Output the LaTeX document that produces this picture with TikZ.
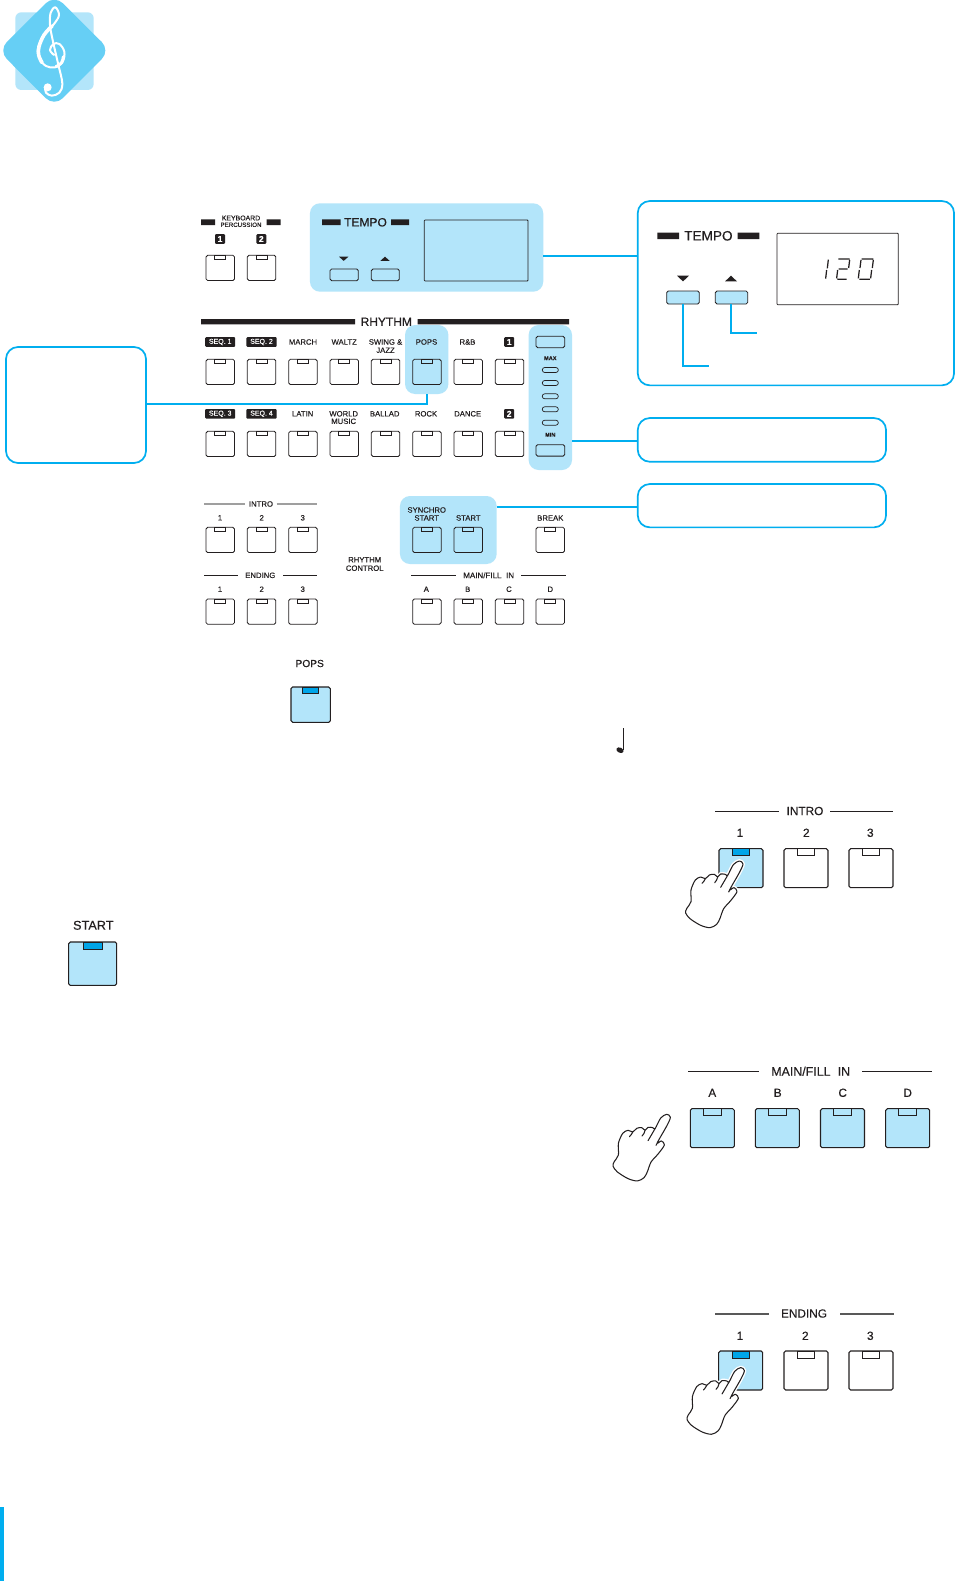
\documentclass[tikz,border=0pt]{standalone}
\usepackage{fontspec}
\setmainfont{Liberation Sans}[FakeBold=0.25]
\definecolor{hl}{HTML}{B3E5FA}
\definecolor{cy}{HTML}{00AEEF}
\definecolor{lamp}{HTML}{00A5E8}
\definecolor{logoblue}{HTML}{66CFF5}
\definecolor{ink}{HTML}{231F20}
\newcount\lblc
\newcommand{\lbl}[4]{\global\advance\lblc by 1
  \node[txt] (lbl\the\lblc) at (#1,#2) {\fontsize{#4}{#4}\selectfont #3};}
\newcommand{\badge}[4]{\global\advance\lblc by 1
  \node[badgebox,minimum width=#4] (lbl\the\lblc) at (#1,#2) {#3};}
\newcommand{\sbtn}[3]{\node[btnbox,minimum width=28.5pt,minimum height=25.2pt,anchor=north west] (#1) at (#2,#3) {};
  \node[lampbox,minimum width=11pt,minimum height=4pt] (#1l) at (#1.north) {};}
\newcommand{\bbtn}[6]{\node[btnbox,line width=1.05pt,minimum width=44pt,minimum height=39pt,anchor=north west,fill=#4] (#1) at (#2,#3) {};
  \node[lampbox,line width=.75pt,minimum width=#6,minimum height=7pt,fill=#5] (#1l) at (#1.north) {};}
\tikzset{
  txt/.style={inner sep=0pt,outer sep=0pt,text=ink,align=center},
  badgebox/.style={inner sep=0pt,outer sep=0pt,fill=ink,rounded corners=1pt,minimum height=9.6pt,text=white,font=\fontsize{7}{7}\selectfont},
  btnbox/.style={draw=ink,line width=.85pt,rounded corners=1.6pt,inner sep=0pt,outer sep=0pt},
  lampbox/.style={draw=ink,line width=.55pt,inner sep=0pt,outer sep=0pt,anchor=north},
  pillbox/.style={draw=ink,line width=.7pt,rounded corners=2.4pt,inner sep=0pt,outer sep=0pt,minimum width=16pt,minimum height=5pt},
  hlbox/.style={fill=hl,rounded corners=10pt,inner sep=0pt,outer sep=0pt},
  callout/.style={draw=cy,line width=1.7pt,rounded corners=12pt,inner sep=0pt,outer sep=0pt,fill=white},
  conn/.style={draw=cy,line width=1.7pt},
  pics/handglyph/.style={code={
    \path[draw=white,line width=3.8pt,fill=white,line join=round,scale=.3333]
      plot[smooth cycle,tension=.5] coordinates {(178,33)(189,42)(178,68)(150,118)(162,113)(171,125)(152,152)(131,176)(120,205)(110,223)(90,233)(62,226)(30,206)(17,189)(20,176)(33,155)(33,120)(46,90)(62,81)(76,86)(88,75)(103,73)(113,81)(122,72)(136,73)(143,76)(160,44)};
    \path[draw=ink,line width=1.05pt,fill=white,line join=round,scale=.3333]
      plot[smooth cycle,tension=.5] coordinates {(178,33)(189,42)(178,68)(150,118)(162,113)(171,125)(152,152)(131,176)(120,205)(110,223)(90,233)(62,226)(30,206)(17,189)(20,176)(33,155)(33,120)(46,90)(62,81)(76,86)(88,75)(103,73)(113,81)(122,72)(136,73)(143,76)(160,44)};
    \draw[ink,line width=1.05pt,line cap=round,scale=.3333] (143,76) -- (122,112) (76,86) .. controls (74,92) and (70,96) .. (66,100) (113,81) .. controls (112,88) and (108,94) .. (104,98) (150,118) -- (146,126);
  }}
}
\begin{document}
\begin{tikzpicture}[x=1pt,y=-1pt]
\useasboundingbox (0,0) rectangle (955,1581);
\fill[white] (0,0) rectangle (955,1581);
% logo
\fill[hl,rounded corners=6pt] (15.3,12.3) rectangle (93.7,90);
\fill[logoblue,rounded corners=12pt] (-1.7,50.5) -- (54.3,-5.2) -- (110.3,50.5) -- (54.3,106.7) -- cycle;
\begin{scope}[shift={(30,0)},scale=.3333]
\draw[white,line width=2pt,line cap=round] plot[smooth,tension=.6] coordinates {(72,165)(60,150)(70,132)(88,132)(103,155)(98,185)(75,202)(48,198)(28,175)(24,145)(42,105)(72,72)(87,45)(76,22)(62,38)(60,75)(68,120)(84,190)(97,250)(88,278)(65,287)(48,278)(45,262)};
\draw[white,line width=3.6pt,line cap=round] plot[smooth,tension=.6] coordinates {(36,188)(26,165)(27,140)(42,105)(66,78)};
\draw[white,line width=3pt,line cap=round] plot[smooth,tension=.6] coordinates {(100,170)(95,188)(78,200)};
\fill[white] (53,262) circle (12);
\end{scope}
% highlights
\node[hlbox,minimum width=233.3pt,minimum height=88.4pt] (tempobg) at (426.6,247.5) {};
\node[hlbox,minimum width=43.4pt,minimum height=69pt] (popsbg) at (426.7,359.5) {};
\node[hlbox,minimum width=43.4pt,minimum height=145pt] (rhythmbg) at (550.3,397.5) {};
\node[hlbox,minimum width=96.7pt,minimum height=68pt] (syncbg) at (448.3,530) {};
% callouts
\node[callout,minimum width=316.3pt,minimum height=184.3pt] (bigbox) at (795.9,293.2) {};
\node[callout,minimum width=248.3pt,minimum height=43.7pt] (boxtwo) at (761.9,439.9) {};
\node[callout,minimum width=248.3pt,minimum height=43.3pt] (boxthree) at (761.9,505.7) {};
\node[callout,minimum width=140pt,minimum height=116pt] (leftbox) at (76,405) {};
% connectors
\coordinate (cA) at (0,256);
\coordinate (cB) at (0,404);
\coordinate (fA) at (709,365.7);
\coordinate (fB) at (757,333);
\draw[conn] (tempobg.east |- cA) -- (bigbox.west |- cA);
\draw[conn] (leftbox.east |- cB) -| (popsbg.south);
\draw[conn] ([yshift=-.8pt]rhythmbg.east |- boxtwo.west) -- ([yshift=-.8pt]boxtwo.west);
\draw[conn] ([yshift=-1pt]syncbg.east |- boxthree.west) -- ([yshift=-1pt]boxthree.west);
% keyboard percussion
\fill[ink] (201,219.3) rectangle (215,225) (266.7,219.3) rectangle (280.7,225);
\lbl{241}{218}{KEYBOARD}{6.9}
\lbl{241}{224.8}{PERCUSSION}{6.2}
\badge{220}{239}{\fontsize{8.5}{8.5}\selectfont\bfseries 1}{10pt}
\badge{261.3}{239}{\fontsize{8.5}{8.5}\selectfont\bfseries 2}{10pt}
\sbtn{kA}{206}{255.3}
\sbtn{kB}{247.3}{255.3}
% tempo panel
\fill[ink] (322,219.3) rectangle (340.7,225) (391,219.3) rectangle (409,225);
\lbl{365.5}{222.3}{TEMPO}{12}
\fill[ink] (339,256.7) -- (348.4,256.7) -- (343.7,260.9) -- cycle;
\fill[ink] (380.3,260.9) -- (389.7,260.9) -- (385,256.7) -- cycle;
\node[btnbox,minimum width=28.3pt,minimum height=11.7pt,anchor=north west] (tdown) at (330,269) {};
\node[btnbox,minimum width=28pt,minimum height=11.7pt,anchor=north west] (tup) at (371.3,269) {};
\node[draw=ink,line width=.85pt,rounded corners=.8pt,inner sep=0pt,outer sep=0pt,minimum width=103.7pt,minimum height=61pt,anchor=north west] (disp) at (424.3,220) {};
% rhythm
\fill[ink] (201,319) rectangle (355,324.3) (417.7,319) rectangle (569,324.3);
\lbl{386.3}{321.8}{RHYTHM}{12}
\badge{220.2}{342}{SEQ. 1}{30pt}
\badge{261.5}{342}{SEQ. 2}{30.4pt}
\lbl{303}{342}{MARCH}{7.7}
\lbl{344.2}{342}{WALTZ}{7.7}
\lbl{385.5}{342}{SWING \&}{7.7}
\lbl{385.5}{350.3}{JAZZ}{7.7}
\lbl{426.5}{342}{POPS}{7.7}
\lbl{467.5}{342}{R\&B}{7.7}
\badge{509.2}{342}{\fontsize{8.5}{8.5}\selectfont\bfseries 1}{10pt}
\badge{220.2}{413.8}{SEQ. 3}{30pt}
\badge{261.5}{413.8}{SEQ. 4}{30.4pt}
\lbl{302.7}{413.8}{LATIN}{7.7}
\lbl{343.7}{413.8}{WORLD}{7.7}
\lbl{343.7}{421.3}{MUSIC}{7.7}
\lbl{384.7}{413.8}{BALLAD}{7.7}
\lbl{426}{413.8}{ROCK}{7.7}
\lbl{467.7}{413.8}{DANCE}{7.7}
\badge{509.2}{413.8}{\fontsize{8.5}{8.5}\selectfont\bfseries 2}{10pt}
\sbtn{rA}{206}{359.3}
\sbtn{rB}{247.3}{359.3}
\sbtn{rC}{288.7}{359.3}
\sbtn{rD}{330}{359.3}
\sbtn{rE}{371.3}{359.3}
\sbtn{rF}{412.7}{359.3}
\sbtn{rG}{454}{359.3}
\sbtn{rH}{495.3}{359.3}
\sbtn{sA}{206}{431.3}
\sbtn{sB}{247.3}{431.3}
\sbtn{sC}{288.7}{431.3}
\sbtn{sD}{330}{431.3}
\sbtn{sE}{371.3}{431.3}
\sbtn{sF}{412.7}{431.3}
\sbtn{sG}{454}{431.3}
\sbtn{sH}{495.3}{431.3}
% variation column
\node[btnbox,minimum width=28.7pt,minimum height=11.4pt,anchor=north west] (vtop) at (536,336.3) {};
\node[btnbox,minimum width=28.7pt,minimum height=11.4pt,anchor=north west] (vbot) at (536,444.7) {};
\lbl{550.3}{358.2}{\bfseries MAX}{5.6}
\lbl{550.3}{434.8}{\bfseries MIN}{5.6}
\node[pillbox] (pA) at (550.3,370) {};
\node[pillbox] (pB) at (550.3,383) {};
\node[pillbox] (pC) at (550.3,396.3) {};
\node[pillbox] (pD) at (550.3,409.3) {};
\node[pillbox] (pE) at (550.3,422.7) {};
% intro / ending
\draw[gray!75,line width=1.1pt] (204,504) -- (245,504) (276.7,504) -- (317.3,504);
\lbl{261}{504}{INTRO}{7.7}
\lbl{220}{517.8}{1}{7.7}
\lbl{261.7}{517.8}{2}{7.7}
\lbl{302.7}{517.8}{3}{7.7}
\sbtn{iA}{206}{527.3}
\sbtn{iB}{247.3}{527.3}
\sbtn{iC}{288.7}{527.3}
\draw[ink,line width=.7pt] (204,575.3) -- (238,575.3) (283,575.3) -- (317.3,575.3);
\lbl{260.3}{575.3}{ENDING}{7.7}
\lbl{220}{589.2}{1}{7.7}
\lbl{261.7}{589.2}{2}{7.7}
\lbl{302.7}{589.2}{3}{7.7}
\sbtn{eA}{206}{599}
\sbtn{eB}{247.3}{599}
\sbtn{eC}{288.7}{599}
\lbl{364.7}{559.8}{RHYTHM}{7.7}
\lbl{364.7}{568.2}{CONTROL}{7.7}
% start section
\lbl{426.7}{510}{SYNCHRO}{7.7}
\lbl{426.7}{518}{START}{7.7}
\lbl{468.3}{518}{START}{7.7}
\lbl{550.3}{518}{BREAK}{7.7}
\sbtn{cA1}{412.7}{527.3}
\sbtn{cB1}{454}{527.3}
\sbtn{cC1}{536}{527.3}
\draw[ink,line width=.7pt] (411,575.3) -- (456,575.3) (521,575.3) -- (565.7,575.3);
\lbl{488.7}{575.3}{MAIN/FILL\hspace{.3em} IN}{8}
\lbl{426.3}{589.2}{A}{7.7}
\lbl{467.7}{589.2}{B}{7.7}
\lbl{509}{589.2}{C}{7.7}
\lbl{550.3}{589.2}{D}{7.7}
\sbtn{mA}{412.7}{599}
\sbtn{mB}{454}{599}
\sbtn{mC}{495.3}{599}
\sbtn{mD}{536}{599}
% POPS big
\lbl{309.7}{663.5}{POPS}{10.2}
\node[btnbox,line width=1.05pt,minimum width=39.3pt,minimum height=35.3pt,anchor=north west,fill=hl] (popsbig) at (291,687) {};
\node[lampbox,line width=.75pt,minimum width=16pt,minimum height=6.3pt,fill=lamp] (popsbigl) at (popsbig.north) {};
% quarter note
\fill[ink] (620,750.2) ellipse[x radius=3.8,y radius=2.6,rotate=-25];
\draw[ink,line width=1pt] (623.3,728.3) -- (623.3,749.5);
% big tempo box
\fill[ink] (657.3,232.7) rectangle (679,239) (737.7,232.7) rectangle (759.3,239);
\lbl{708.4}{235.8}{TEMPO}{13.6}
\fill[ink] (677,275.7) -- (689,275.7) -- (683,281.4) -- cycle;
\fill[ink] (725,281.4) -- (737,281.4) -- (731,275.7) -- cycle;
\node[btnbox,fill=hl,minimum width=32.6pt,minimum height=13pt,anchor=north west] (bigdown) at (666.7,291) {};
\node[btnbox,fill=hl,minimum width=32.4pt,minimum height=13pt,anchor=north west] (bigup) at (715.3,291) {};
\node[draw=ink,line width=.85pt,rounded corners=.8pt,inner sep=0pt,outer sep=0pt,minimum width=121.3pt,minimum height=71.4pt,anchor=north west] (bigdisp) at (777,233.3) {};
\begin{scope}[shift={(620,190)},scale=.3333]
\draw[ink,line width=1.25pt] (625,209) -- (622,235) (620,240) -- (617,266)
 (655,207) -- (689,207) (689,210) -- (686,234) (656,237) -- (683,237) (653,240) -- (650,265) (652,268) -- (680,268)
 (725,207) -- (760,207) (760,210) -- (757,234) (755,240) -- (752,265) (723,210) -- (720,234) (718,240) -- (715,265) (718,268) -- (750,268);
\end{scope}
\draw[conn] (bigdown.south -| 682.7,0) |- (fA);
\draw[conn] (bigup.south -| 730.7,0) |- (fB);
% START big
\lbl{93.3}{925.3}{START}{12.7}
\node[btnbox,line width=1.05pt,minimum width=48pt,minimum height=43.3pt,anchor=north west,fill=hl] (startbig) at (68.7,942) {};
\node[lampbox,line width=.75pt,minimum width=19.4pt,minimum height=7.7pt,fill=lamp] (startbigl) at (startbig.north) {};
% intro panel
\draw[ink,line width=.8pt] (715,811.3) -- (779.3,811.3) (830,811.3) -- (893.3,811.3);
\lbl{805}{811}{INTRO}{11.8}
\lbl{740}{832.8}{1}{11.8}
\lbl{806.3}{832.8}{2}{11.8}
\lbl{870.3}{832.8}{3}{11.8}
\bbtn{xA}{719}{848.7}{hl}{lamp}{17.4pt}
\bbtn{xB}{784}{848.7}{white}{white}{17.4pt}
\bbtn{xC}{849}{848.7}{white}{white}{17.4pt}
\pic at (680,850) {handglyph};
% main/fill in panel
\draw[ink,line width=.8pt] (688.3,1071.7) -- (759.3,1071.7) (862.3,1071.7) -- (932.3,1071.7);
\lbl{810.7}{1071.3}{MAIN/FILL\hspace{.3em} IN}{12.4}
\lbl{712.3}{1092.8}{A}{11.8}
\lbl{777.7}{1092.8}{B}{11.8}
\lbl{842.7}{1092.8}{C}{11.8}
\lbl{907.7}{1092.8}{D}{11.8}
\bbtn{yA}{690.3}{1108.7}{hl}{hl}{18pt}
\bbtn{yB}{755.3}{1108.7}{hl}{hl}{18pt}
\bbtn{yC}{820.5}{1108.7}{hl}{hl}{18pt}
\bbtn{yD}{885.7}{1108.7}{hl}{hl}{18pt}
\pic at (607.4,1103.3) {handglyph};
% ending panel
\draw[black!65,line width=1.1pt] (715,1314) -- (769,1314) (840,1314) -- (893.7,1314);
\lbl{804}{1313.5}{ENDING}{11.8}
\lbl{740}{1335.8}{1}{11.8}
\lbl{805.3}{1335.8}{2}{11.8}
\lbl{870.3}{1335.8}{3}{11.8}
\bbtn{zA}{718.7}{1351}{hl}{lamp}{17.4pt}
\bbtn{zB}{784}{1351}{white}{white}{17.4pt}
\bbtn{zC}{849}{1351}{white}{white}{17.4pt}
\pic at (681.4,1356.6) {handglyph};
% page tab
\fill[cy] (0,1506.7) rectangle (4,1581);
\end{tikzpicture}
\end{document}
